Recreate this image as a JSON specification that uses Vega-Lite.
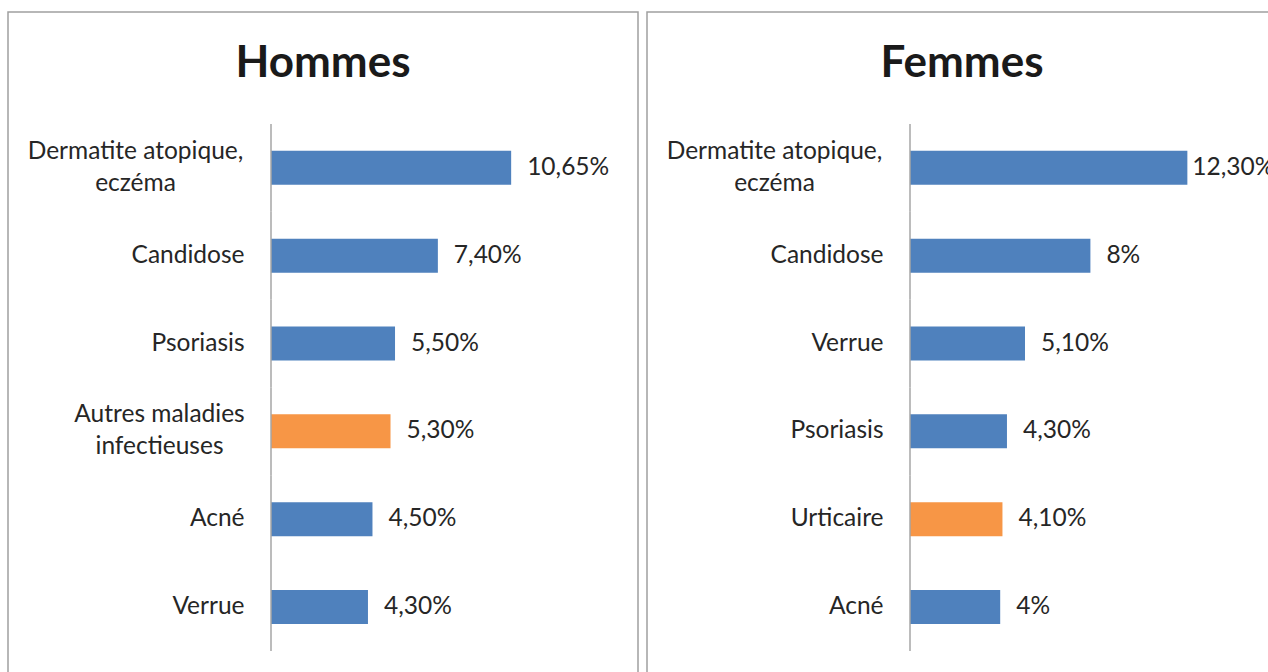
{
  "$schema": "https://vega.github.io/schema/vega-lite/v6.json",
  "padding": {"left": 7, "top": 11, "right": 0, "bottom": 0},
  "background": "white",
  "datasets": {
    "maladies": [
      {"sexe": "Hommes", "maladie": "Dermatite atopique,\neczéma", "valeur": 10.65, "texte": "10,65%", "mis_en_avant": "non"},
      {"sexe": "Hommes", "maladie": "Candidose", "valeur": 7.4, "texte": "7,40%", "mis_en_avant": "non"},
      {"sexe": "Hommes", "maladie": "Psoriasis", "valeur": 5.5, "texte": "5,50%", "mis_en_avant": "non"},
      {"sexe": "Hommes", "maladie": "Autres maladies\ninfectieuses", "valeur": 5.3, "texte": "5,30%", "mis_en_avant": "oui"},
      {"sexe": "Hommes", "maladie": "Acné", "valeur": 4.5, "texte": "4,50%", "mis_en_avant": "non"},
      {"sexe": "Hommes", "maladie": "Verrue", "valeur": 4.3, "texte": "4,30%", "mis_en_avant": "non"},
      {"sexe": "Femmes", "maladie": "Dermatite atopique,\neczéma", "valeur": 12.3, "texte": "12,30%", "mis_en_avant": "non"},
      {"sexe": "Femmes", "maladie": "Candidose", "valeur": 8, "texte": "8%", "mis_en_avant": "non"},
      {"sexe": "Femmes", "maladie": "Verrue", "valeur": 5.1, "texte": "5,10%", "mis_en_avant": "non"},
      {"sexe": "Femmes", "maladie": "Psoriasis", "valeur": 4.3, "texte": "4,30%", "mis_en_avant": "non"},
      {"sexe": "Femmes", "maladie": "Urticaire", "valeur": 4.1, "texte": "4,10%", "mis_en_avant": "oui"},
      {"sexe": "Femmes", "maladie": "Acné", "valeur": 4, "texte": "4%", "mis_en_avant": "non"}
    ]
  },
  "data": {"name": "maladies"},
  "spacing": 7,
  "hconcat": [
    {
      "title": {"text": "Hommes"},
      "width": 630,
      "height": 662,
      "transform": [{"filter": "datum.sexe == 'Hommes'"}],
      "encoding": {
        "y": {"field": "maladie", "type": "nominal", "sort": null,
              "scale": {"paddingInner": 0.463, "paddingOuter": 1, "align": 0.753},
              "axis": {"offset": -263, "domain": false, "labelExpr": "split(datum.label, '\\n')",
                       "labelOffset": {"condition": {"test": "indexof(datum.value, '\\n') >= 0", "value": -16}, "value": 0},
                       "labelAlign": {"condition": {"test": "indexof(datum.value, '\\n') >= 0", "value": "center"}, "value": "right"},
                       "labelPadding": {"condition": [
                          {"test": "indexof(datum.value, 'Dermatite') >= 0", "value": 136},
                          {"test": "indexof(datum.value, 'Autres') >= 0", "value": 112}], "value": 27}}},
        "x": {"field": "valeur", "type": "quantitative",
              "scale": {"domain": [-11.663, 16.275], "nice": false}, "axis": null}
      },
      "layer": [
        {"mark": {"type": "bar", "size": 34},
         "encoding": {"color": {"field": "mis_en_avant", "type": "nominal",
                                 "scale": {"domain": ["non", "oui"], "range": ["#4F81BD", "#F79646"]}, "legend": null}}},
        {"mark": {"type": "tick", "orient": "vertical", "size": 87.83, "thickness": 1.5, "color": "#A6A6A6", "opacity": 1},
         "encoding": {"x": {"datum": 0}}},
        {"transform": [{"filter": "datum.valeur < 12"}],
         "mark": {"type": "text", "align": "left", "baseline": "middle", "dx": 16},
         "encoding": {"text": {"field": "texte"}}},
        {"transform": [{"filter": "datum.valeur >= 12"}],
         "mark": {"type": "text", "align": "left", "baseline": "middle", "dx": 5},
         "encoding": {"text": {"field": "texte"}}}
      ]
    },
    {
      "title": {"text": "Femmes"},
      "width": 630,
      "height": 662,
      "transform": [{"filter": "datum.sexe == 'Femmes'"}],
      "encoding": {
        "y": {"field": "maladie", "type": "nominal", "sort": null,
              "scale": {"paddingInner": 0.463, "paddingOuter": 1, "align": 0.753},
              "axis": {"offset": -263, "domain": false, "labelExpr": "split(datum.label, '\\n')",
                       "labelOffset": {"condition": {"test": "indexof(datum.value, '\\n') >= 0", "value": -16}, "value": 0},
                       "labelAlign": {"condition": {"test": "indexof(datum.value, '\\n') >= 0", "value": "center"}, "value": "right"},
                       "labelPadding": {"condition": {"test": "indexof(datum.value, '\\n') >= 0", "value": 136}, "value": 27}}},
        "x": {"field": "valeur", "type": "quantitative",
              "scale": {"domain": [-11.663, 16.275], "nice": false}, "axis": null}
      },
      "layer": [
        {"mark": {"type": "bar", "size": 34},
         "encoding": {"color": {"field": "mis_en_avant", "type": "nominal",
                                 "scale": {"domain": ["non", "oui"], "range": ["#4F81BD", "#F79646"]}, "legend": null}}},
        {"mark": {"type": "tick", "orient": "vertical", "size": 87.83, "thickness": 1.5, "color": "#A6A6A6", "opacity": 1},
         "encoding": {"x": {"datum": 0}}},
        {"transform": [{"filter": "datum.valeur < 12"}],
         "mark": {"type": "text", "align": "left", "baseline": "middle", "dx": 16},
         "encoding": {"text": {"field": "texte"}}},
        {"transform": [{"filter": "datum.valeur >= 12"}],
         "mark": {"type": "text", "align": "left", "baseline": "middle", "dx": 5},
         "encoding": {"text": {"field": "texte"}}}
      ]
    }
  ],
  "config": {
    "font": "Lato",
    "view": {"stroke": "#A0A0A0", "strokeWidth": 1.5},
    "title": {"font": "Lato", "fontSize": 44, "fontWeight": "bold", "color": "#1A1A1A",
              "anchor": "middle", "baseline": "alphabetic", "offset": -74},
    "axisY": {"title": null, "ticks": false, "grid": false,
              "labelFont": "Lato", "labelFontSize": 24.5, "labelColor": "#262626",
              "labelLineHeight": 32, "labelLimit": 0, "labelBaseline": "middle"},
    "text": {"font": "Lato", "fontSize": 24.5, "color": "#262626"}
  }
}
